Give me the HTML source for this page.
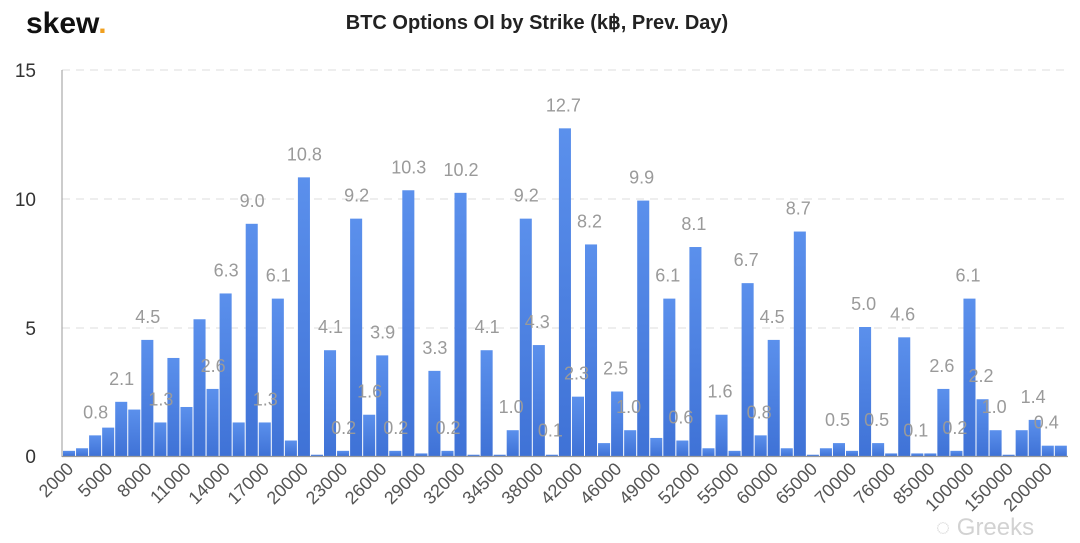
<!DOCTYPE html>
<html><head><meta charset="utf-8">
<style>
body{margin:0;background:#fff;}
svg{display:block;font-family:"Liberation Sans",sans-serif;}
.lbl{fill:#9a9a9a;font-size:18px;text-anchor:middle;}
.tk{fill:#555;font-size:18px;text-anchor:end;}
.yl{fill:#333;font-size:19px;text-anchor:end;}
</style></head>
<body>
<svg id="s" width="1080" height="543" viewBox="0 0 1080 543">
<defs><linearGradient id="g" x1="0" y1="0" x2="0" y2="1"><stop offset="0" stop-color="#5b90ec"/><stop offset="1" stop-color="#3f72d6"/></linearGradient></defs>
<text x="26" y="33" font-size="30" font-weight="bold" fill="#111">skew<tspan fill="#f0a020">.</tspan></text>
<text x="537" y="29" font-size="20" font-weight="bold" fill="#222" text-anchor="middle">BTC Options OI by Strike (k฿, Prev. Day)</text>
<g stroke="#ddd" stroke-dasharray="8,6" stroke-width="1">
<line x1="62" y1="70" x2="1068" y2="70"/><line x1="62" y1="199" x2="1068" y2="199"/><line x1="62" y1="328" x2="1068" y2="328"/>
</g>
<text class="yl" x="36" y="77">15</text>
<text class="yl" x="36" y="206">10</text>
<text class="yl" x="36" y="335">5</text>
<text class="yl" x="36" y="463">0</text>
<g id="bars"></g>
<line x1="62" y1="70" x2="62" y2="457" stroke="#999" stroke-width="1"/>
<line x1="62" y1="456.5" x2="1068" y2="456.5" stroke="#999" stroke-width="1.2"/>
<g id="labels">
<text class="lbl" x="95.6" v="0.8">0.8</text>
<text class="lbl" x="121.7" v="2.1">2.1</text>
<text class="lbl" x="147.8" v="4.5">4.5</text>
<text class="lbl" x="160.9" v="1.3">1.3</text>
<text class="lbl" x="213.1" v="2.6">2.6</text>
<text class="lbl" x="226.1" v="6.3">6.3</text>
<text class="lbl" x="252.2" v="9.0">9.0</text>
<text class="lbl" x="265.3" v="1.3">1.3</text>
<text class="lbl" x="278.3" v="6.1">6.1</text>
<text class="lbl" x="304.4" v="10.8">10.8</text>
<text class="lbl" x="330.5" v="4.1">4.1</text>
<text class="lbl" x="343.6" v="0.2">0.2</text>
<text class="lbl" x="356.6" v="9.2">9.2</text>
<text class="lbl" x="369.7" v="1.6">1.6</text>
<text class="lbl" x="382.7" v="3.9">3.9</text>
<text class="lbl" x="395.8" v="0.2">0.2</text>
<text class="lbl" x="408.8" v="10.3">10.3</text>
<text class="lbl" x="434.9" v="3.3">3.3</text>
<text class="lbl" x="448.0" v="0.2">0.2</text>
<text class="lbl" x="461.0" v="10.2">10.2</text>
<text class="lbl" x="487.1" v="4.1">4.1</text>
<text class="lbl" x="511.2" v="1.0">1.0</text>
<text class="lbl" x="526.3" v="9.2">9.2</text>
<text class="lbl" x="537.3" v="4.3">4.3</text>
<text class="lbl" x="550.4" v="0.1">0.1</text>
<text class="lbl" x="563.4" v="12.7">12.7</text>
<text class="lbl" x="576.5" v="2.3">2.3</text>
<text class="lbl" x="589.5" v="8.2">8.2</text>
<text class="lbl" x="615.6" v="2.5">2.5</text>
<text class="lbl" x="628.7" v="1.0">1.0</text>
<text class="lbl" x="641.7" v="9.9">9.9</text>
<text class="lbl" x="667.8" v="6.1">6.1</text>
<text class="lbl" x="680.9" v="0.6">0.6</text>
<text class="lbl" x="693.9" v="8.1">8.1</text>
<text class="lbl" x="720.0" v="1.6">1.6</text>
<text class="lbl" x="746.1" v="6.7">6.7</text>
<text class="lbl" x="759.2" v="0.8">0.8</text>
<text class="lbl" x="772.2" v="4.5">4.5</text>
<text class="lbl" x="798.3" v="8.7">8.7</text>
<text class="lbl" x="837.5" v="0.5">0.5</text>
<text class="lbl" x="863.6" v="5.0">5.0</text>
<text class="lbl" x="876.6" v="0.5">0.5</text>
<text class="lbl" x="902.7" v="4.6">4.6</text>
<text class="lbl" x="915.8" v="0.1">0.1</text>
<text class="lbl" x="941.9" v="2.6">2.6</text>
<text class="lbl" x="954.9" v="0.2">0.2</text>
<text class="lbl" x="968.0" v="6.1">6.1</text>
<text class="lbl" x="981.0" v="2.2">2.2</text>
<text class="lbl" x="994.1" v="1.0">1.0</text>
<text class="lbl" x="1033.2" v="1.4">1.4</text>
<text class="lbl" x="1046.3" v="0.4">0.4</text>
</g>
<g id="ticks">
<text class="tk">2000</text><text class="tk">5000</text><text class="tk">8000</text><text class="tk">11000</text><text class="tk">14000</text><text class="tk">17000</text><text class="tk">20000</text><text class="tk">23000</text><text class="tk">26000</text><text class="tk">29000</text><text class="tk">32000</text><text class="tk">34500</text><text class="tk">38000</text><text class="tk">42000</text><text class="tk">46000</text><text class="tk">49000</text><text class="tk">52000</text><text class="tk">55000</text><text class="tk">60000</text><text class="tk">65000</text><text class="tk">70000</text><text class="tk">76000</text><text class="tk">85000</text><text class="tk">100000</text><text class="tk">150000</text><text class="tk">200000</text>
</g>
<text x="985" y="535" font-size="24" fill="#c8c8c8" text-anchor="middle" opacity="0.8">◌ Greeks</text>
</svg>
<script>
var v=[0.2,0.3,0.8,1.1,2.1,1.8,4.5,1.3,3.8,1.9,5.3,2.6,6.3,1.3,9.0,1.3,6.1,0.6,10.8,0.05,4.1,0.2,9.2,1.6,3.9,0.2,10.3,0.1,3.3,0.2,10.2,0.05,4.1,0.05,1.0,9.2,4.3,0.05,12.7,2.3,8.2,0.5,2.5,1.0,9.9,0.7,6.1,0.6,8.1,0.3,1.6,0.2,6.7,0.8,4.5,0.3,8.7,0.05,0.3,0.5,0.2,5.0,0.5,0.1,4.6,0.1,0.1,2.6,0.2,6.1,2.2,1.0,0.05,1.0,1.4,0.4,0.4];
var ns="http://www.w3.org/2000/svg",b=document.getElementById("bars"),w=13.05,B=456,k=25.8;
v.forEach(function(x,i){var r=document.createElementNS(ns,"rect");var h=x*k;r.setAttribute("x",63+i*w);r.setAttribute("y",B-h);r.setAttribute("width",w-1);r.setAttribute("height",h);r.setAttribute("fill","url(#g)");b.appendChild(r);});
document.querySelectorAll("#labels text").forEach(function(t){t.setAttribute("y",B-parseFloat(t.getAttribute("v"))*k-17);});
document.querySelectorAll("#ticks text").forEach(function(t,j){var cx=69.5+3*w*j+5,cy=470;t.setAttribute("x",cx);t.setAttribute("y",cy);t.setAttribute("transform","rotate(-45 "+cx+" "+cy+")");});
</script>
</body></html>
